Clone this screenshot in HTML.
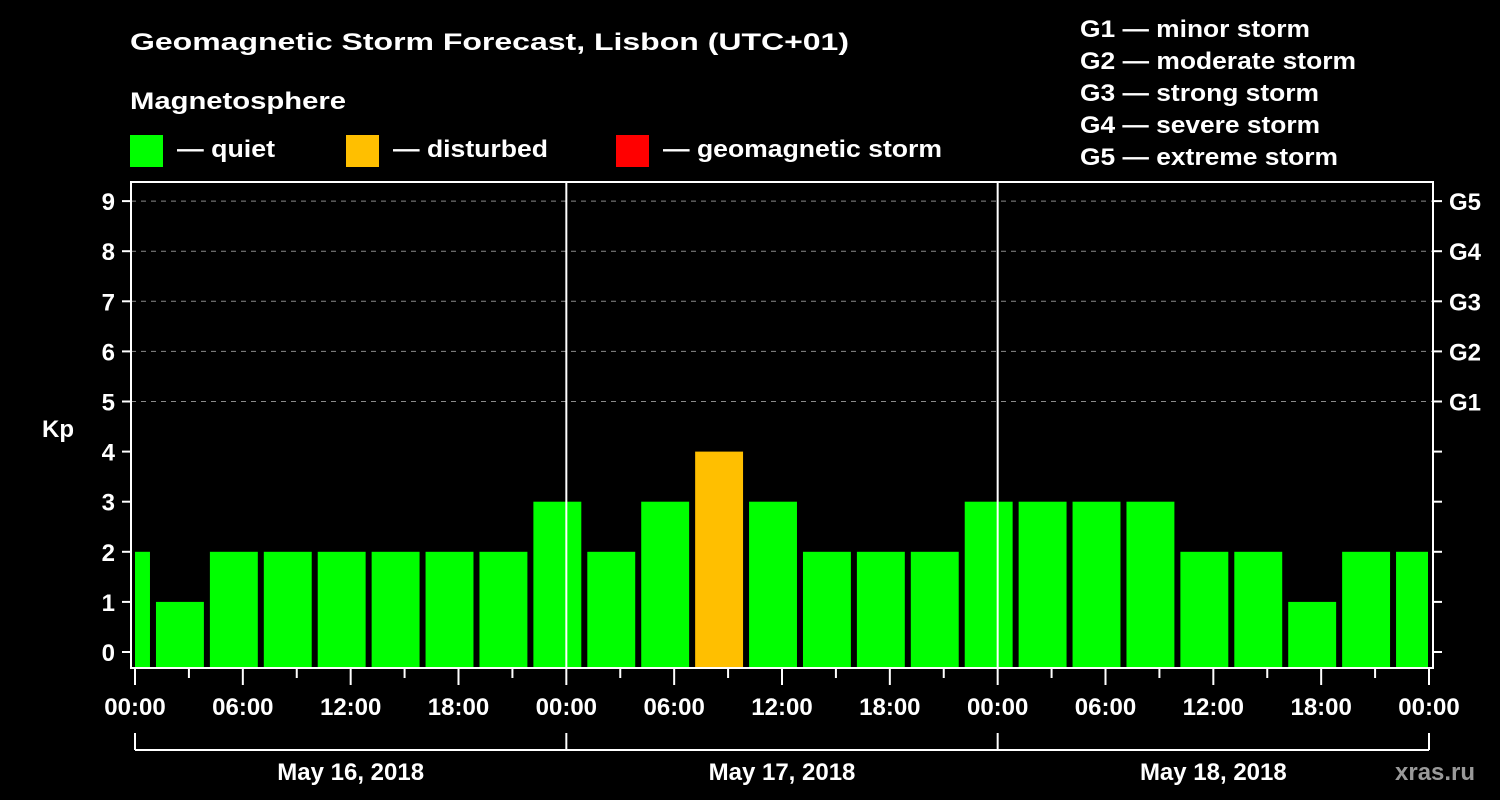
<!DOCTYPE html>
<html><head><meta charset="utf-8"><style>
html,body{margin:0;padding:0;background:#000;}
svg{display:block;font-family:"Liberation Sans",sans-serif;font-weight:bold;}
</style></head><body>
<svg id="chart" width="1500" height="800" viewBox="0 0 1500 800" xmlns="http://www.w3.org/2000/svg">
<rect width="1500" height="800" fill="#000"/>
<text x="130" y="50" fill="#fff" font-size="24" textLength="719" lengthAdjust="spacingAndGlyphs">Geomagnetic Storm Forecast, Lisbon (UTC+01)</text>
<text x="130" y="109" fill="#fff" font-size="24" textLength="216" lengthAdjust="spacingAndGlyphs">Magnetosphere</text>
<g>
<rect x="130" y="135" width="33" height="32" fill="#00ff00"/>
<text x="177" y="157" fill="#fff" font-size="24" textLength="98" lengthAdjust="spacingAndGlyphs">— quiet</text></g>
<g>
<rect x="346" y="135" width="33" height="32" fill="#ffbf00"/>
<text x="393" y="157" fill="#fff" font-size="24" textLength="155" lengthAdjust="spacingAndGlyphs">— disturbed</text></g>
<g>
<rect x="616" y="135" width="33" height="32" fill="#ff0000"/>
<text x="663" y="157" fill="#fff" font-size="24" textLength="279" lengthAdjust="spacingAndGlyphs">— geomagnetic storm</text></g>
<g fill="#fff" font-size="24">
<text x="1080" y="37" textLength="230" lengthAdjust="spacingAndGlyphs">G1 — minor storm</text>
<text x="1080" y="69" textLength="276" lengthAdjust="spacingAndGlyphs">G2 — moderate storm</text>
<text x="1080" y="101" textLength="239" lengthAdjust="spacingAndGlyphs">G3 — strong storm</text>
<text x="1080" y="133" textLength="240" lengthAdjust="spacingAndGlyphs">G4 — severe storm</text>
<text x="1080" y="165" textLength="258" lengthAdjust="spacingAndGlyphs">G5 — extreme storm</text>
</g>
<text x="42" y="437" fill="#fff" font-size="24">Kp</text>
<text x="1395" y="780" fill="#9a9a9a" font-size="24">xras.ru</text>
<g id="grid"></g>
<g id="bars"></g>
<g id="axes"></g>
</svg>
<script>
const kpValues = [2,1,2,2,2,2,2,2,3,2,3,4,3,2,2,2,3,3,3,3,2,2,1,2,2];
const kpTicks = [0,1,2,3,4,5,6,7,8,9];
const gLabels = ["G1","G2","G3","G4","G5"];
const gLevels = [5,6,7,8,9];
const timeLabels = ["00:00","06:00","12:00","18:00","00:00","06:00","12:00","18:00","00:00","06:00","12:00","18:00","00:00"];
const dateLabels = ["May 16, 2018","May 17, 2018","May 18, 2018"];

const NS="http://www.w3.org/2000/svg";
const X0=135, X1=1429, TOTALH=72;
const xh = h => X0 + (X1-X0)*h/TOTALH;
const yk = v => 652 - 50.1*v;
function mk(tag, attrs, parent){const e=document.createElementNS(NS,tag);for(const k in attrs)e.setAttribute(k,attrs[k]);parent.appendChild(e);return e;}
const grid=document.getElementById('grid'), bars=document.getElementById('bars'), axes=document.getElementById('axes');

// grid lines at G levels
gLevels.forEach((lv,i)=>{
  const l=mk('line',{x1:131,x2:1433,y1:yk(lv),y2:yk(lv),stroke:'#8a8a8a','stroke-width':1,'stroke-dasharray':'5,5'},grid);
  
  
});

// bars
kpValues.forEach((v,i)=>{
  const h0=Math.max(0,i*3-2), h1=Math.min(TOTALH,i*3+1);
  let xa=xh(h0)+(h0>0?3:0), xb=xh(h1)-(h1<TOTALH?3:1);
  const color = v>=5?'#ff0000':(v>=4?'#ffbf00':'#00ff00');
  const r=mk('rect',{x:xa,y:yk(v),width:xb-xa,height:667-yk(v),fill:color},bars);
  
  
});

// frame
const fr=mk('rect',{x:131,y:182,width:1302,height:486,fill:'none',stroke:'#fff','stroke-width':2},axes);


// day separators
[1,2].forEach(d=>{
  const l=mk('line',{x1:xh(d*24),x2:xh(d*24),y1:182,y2:668,stroke:'#fff','stroke-width':2},axes);
  
  
});
// y ticks & labels
kpTicks.forEach(k=>{
  const y=yk(k);
  mk('line',{x1:122,x2:131,y1:y,y2:y,stroke:'#fff','stroke-width':2},axes);
  mk('line',{x1:1433,x2:1442,y1:y,y2:y,stroke:'#fff','stroke-width':2},axes);
  const t=mk('text',{x:115,y:y+9,fill:'#fff','font-size':24,'text-anchor':'end'},axes);
  t.textContent=k;
  
  
});
gLabels.forEach((g,i)=>{
  const t=mk('text',{x:1449,y:yk(gLevels[i])+9,fill:'#fff','font-size':24},axes);
  t.textContent=g;
  
  
});
// x ticks
for(let h=0;h<=TOTALH;h+=3){
  const major=h%6===0;
  mk('line',{x1:xh(h),x2:xh(h),y1:668,y2:major?685:678,stroke:'#fff','stroke-width':2},axes);
}
timeLabels.forEach((s,i)=>{
  const t=mk('text',{x:xh(i*6),y:715,fill:'#fff','font-size':24,'text-anchor':'middle'},axes);
  t.textContent=s;
  
  
});
// date bracket
mk('line',{x1:xh(0),x2:xh(72),y1:750,y2:750,stroke:'#fff','stroke-width':2},axes);
for(let d=0;d<=3;d++){
  mk('line',{x1:xh(d*24),x2:xh(d*24),y1:733,y2:750,stroke:'#fff','stroke-width':2},axes);
}
dateLabels.forEach((s,i)=>{
  const t=mk('text',{x:xh(i*24+12),y:780,fill:'#fff','font-size':24,'text-anchor':'middle'},axes);
  t.textContent=s;
  
  
});
</script>
</body></html>
